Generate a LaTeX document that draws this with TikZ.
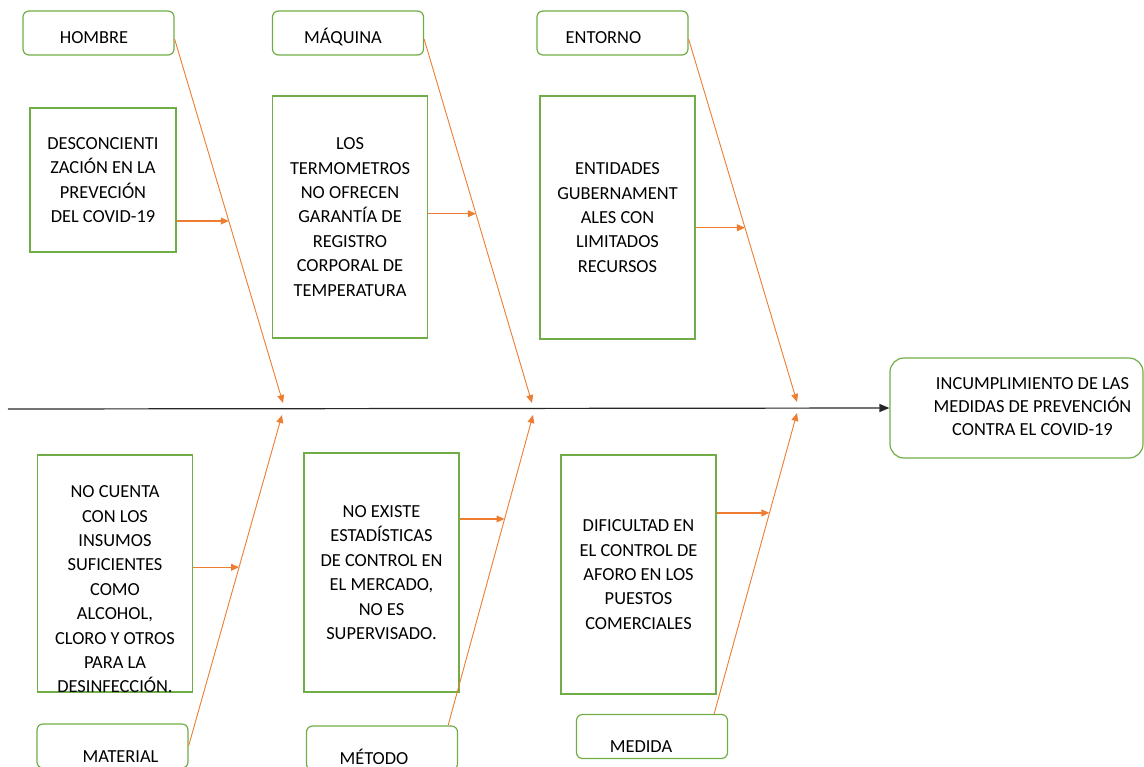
\documentclass[tikz,border=0pt]{standalone}
\usepackage{fontspec}
\setmainfont{Carlito}
\usetikzlibrary{arrows.meta,calc}

\definecolor{boxgreen}{RGB}{112,173,71}
\definecolor{boneorange}{RGB}{237,125,49}

\begin{document}
\begin{tikzpicture}[x=0.5pt, y=-0.5pt]
\tikzset{every node/.style={font=\fontsize{9.2}{12.2}\selectfont, align=center, inner sep=0pt}}
\tikzset{catbox/.style={draw=boxgreen, line width=0.6pt, rounded corners=3pt,
  minimum width=75.5pt, minimum height=22pt, text height=10.8pt, text depth=0pt}}
\tikzset{lowcat/.style={catbox, text height=16pt}}
\tikzset{causebox/.style={draw=boxgreen, line width=0.6pt, minimum width=77.5pt}}
\tikzset{bone/.style={draw=boneorange, line width=0.45pt, -{Triangle[length=4pt,width=3.4pt]}}}
\tikzset{subbone/.style={bone, line width=0.6pt}}
\useasboundingbox (0,0) rectangle (1144,766);

\node[catbox] (hombre) at (98.5,33) {\hspace*{-4.5pt}HOMBRE};
\node[catbox] (maquina) at (348,33) {\hspace*{-5pt}MÁQUINA};
\node[catbox] (entorno) at (612.5,33) {\hspace*{-9pt}ENTORNO};
\node[lowcat] (material) at (112.5,746) {\hspace*{8pt}MATERIAL};
\node[lowcat] (metodo) at (382,748) {\hspace*{-8pt}MÉTODO};
\node[lowcat] (medida) at (652,736.5) {\hspace*{-11pt}MEDIDA};

\node[causebox, minimum width=73pt, minimum height=72pt] (desc) at (103,180)
  {DESCONCIENTI\\ZACIÓN EN LA\\PREVECIÓN\\DEL COVID-19};
\node[causebox, minimum height=121pt] (termo) at (350,217)
  {LOS\\TERMOMETROS\\NO OFRECEN\\GARANTÍA DE\\REGISTRO\\CORPORAL DE\\TEMPERATURA};
\node[causebox, minimum height=121.5pt] (entid) at (617.5,217.5)
  {ENTIDADES\\GUBERNAMENT\\ALES CON\\LIMITADOS\\RECURSOS};
\node[causebox, minimum height=118.5pt] (insumo) at (115,573.5)
  {\raisebox{-10.7pt}[0pt][0pt]{\begin{tabular}{@{}c@{}}NO CUENTA\\CON LOS\\INSUMOS\\SUFICIENTES\\COMO\\ALCOHOL,\\CLORO Y OTROS\\PARA LA\\DESINFECCIÓN.\end{tabular}}};
\node[causebox, minimum height=119.5pt] (estad) at (381.5,572.5)
  {NO EXISTE\\ESTADÍSTICAS\\DE CONTROL EN\\EL MERCADO,\\NO ES\\SUPERVISADO.};
\node[causebox, minimum height=119.5pt] (aforo) at (638.5,574.5)
  {DIFICULTAD EN\\EL CONTROL DE\\AFORO EN LOS\\PUESTOS\\COMERCIALES};

\node[draw=boxgreen, line width=0.6pt, rounded corners=7pt, minimum width=126.5pt,
  minimum height=50pt, font=\fontsize{9.2}{11.3}\selectfont] (effect) at (1016.5,408)
  {\hspace*{16pt}\begin{tabular}{@{}c@{}}INCUMPLIMIENTO DE LAS\\MEDIDAS DE PREVENCIÓN\\CONTRA EL COVID-19\end{tabular}};

\coordinate (tail) at (8,409);
\draw[line width=0.6pt, draw=black!85, -{Triangle[length=5pt,width=4pt]}] (tail) -- (effect.west);

\coordinate (hombreroot) at ([yshift=-3pt]hombre.east);
\coordinate (maquinaroot) at ([yshift=-3pt]maquina.east);
\coordinate (entornoroot) at ([yshift=-3pt]entorno.east);
\coordinate (materialroot) at (material.east);
\coordinate (metodoroot) at ([xshift=-5pt]metodo.north east);
\coordinate (medidaroot) at ([xshift=-7pt]medida.north east);

\coordinate (hombretip) at (283,403);
\coordinate (maquinatip) at (532,403);
\coordinate (entornotip) at (797,402);
\coordinate (materialtip) at (282,415);
\coordinate (metodotip) at (533,415);
\coordinate (medidatip) at (797,413);

\draw[bone] (hombreroot) -- (hombretip);
\draw[bone] (maquinaroot) -- (maquinatip);
\draw[bone] (entornoroot) -- (entornotip);
\draw[bone] (materialroot) -- (materialtip);
\draw[bone] (metodoroot) -- (metodotip);
\draw[bone] (medidaroot) -- (medidatip);

\coordinate (hombremid) at ($(hombreroot)!0.5!(hombretip)$);
\coordinate (maquinamid) at ($(maquinaroot)!0.48!(maquinatip)$);
\coordinate (entornomid) at ($(entornoroot)!0.52!(entornotip)$);
\coordinate (materialmid) at ($(materialroot)!0.54!(materialtip)$);
\coordinate (metodomid) at ($(metodoroot)!0.665!(metodotip)$);
\coordinate (medidamid) at ($(medidaroot)!0.668!(medidatip)$);

\draw[subbone] (desc.east |- hombremid) -- (hombremid);
\draw[subbone] (termo.east |- maquinamid) -- (maquinamid);
\draw[subbone] (entid.east |- entornomid) -- (entornomid);
\draw[subbone] (insumo.east |- materialmid) -- (materialmid);
\draw[subbone] (estad.east |- metodomid) -- (metodomid);
\draw[subbone] (aforo.east |- medidamid) -- (medidamid);
\end{tikzpicture}
\end{document}
